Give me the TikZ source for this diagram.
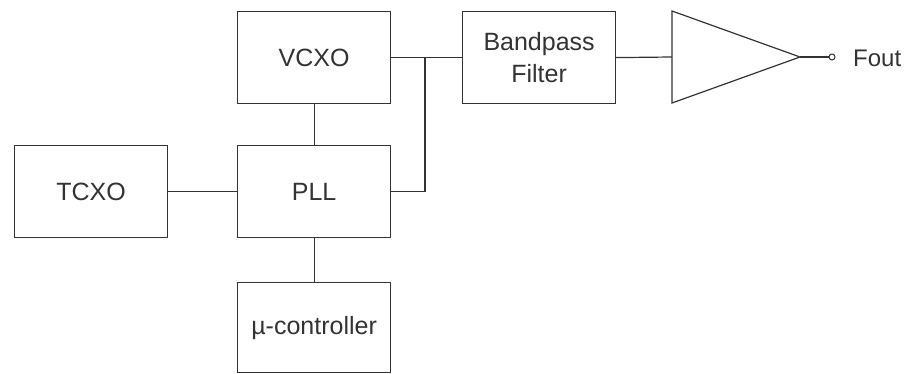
\documentclass[tikz,border=0pt]{standalone}
\usepackage{fontspec}
\setmainfont{Liberation Sans}
\begin{document}
\begin{tikzpicture}[x=1pt,y=-1pt,
  blk/.style={draw, line width=1.2pt, minimum width=153pt, minimum height=92pt, inner sep=0pt,
    font=\fontsize{25}{32}\selectfont, align=center, anchor=north west, color=black!80, text=black!80},
  wire/.style={line width=1.2pt, color=black!80}]
\useasboundingbox (0,0) rectangle (914,374);
\node[blk] (vcxo) at (237,11) {VCXO};
\node[blk] (pll) at (237,145) {PLL};
\node[blk] (tcxo) at (14,145) {TCXO};
\node[blk, minimum height=90pt] (uc) at (237,282) {µ-controller};
\node[blk] (bpf) at (462,11) {Bandpass\\Filter};
\coordinate (j) at (425,57);
\coordinate (amptip) at (800,57);
\draw[wire] (672,11) coordinate (ampt) -- (amptip) -- (672,103) coordinate (ampb) -- cycle;
\coordinate (ampin) at (672,57);
\node[draw, circle, line width=1pt, minimum size=6pt, inner sep=0pt, color=black!80] (out) at (832,57) {};
\node[font=\fontsize{24}{30}\selectfont, anchor=west, text=black!80, inner sep=0pt] (fout) at (853,58) {Fout};
\draw[wire] (vcxo.south) -- (pll.north);
\draw[wire] (tcxo.east) -- (pll.east -| pll.west);
\draw[wire] (pll.south) -- (uc.north);
\draw[wire] (vcxo.east) -- (bpf.west);
\draw[wire] (pll.east) -| (j);
\draw[wire] (bpf.east) -- (ampin);
\draw[wire] (amptip) -- (out.west);
\end{tikzpicture}
\end{document}
